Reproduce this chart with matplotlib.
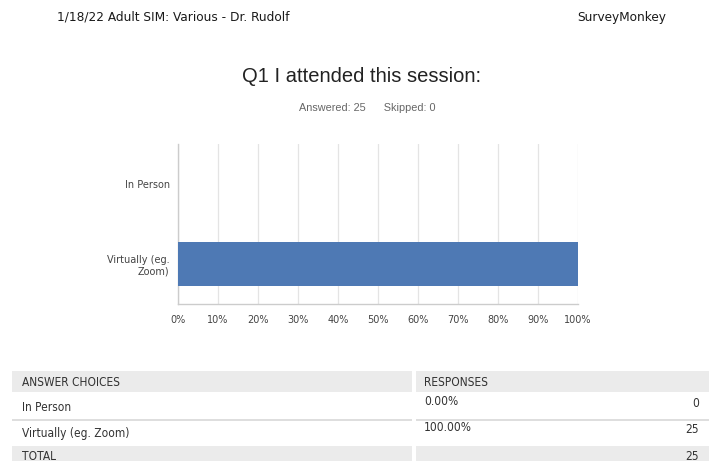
import matplotlib
matplotlib.use("Agg")
import matplotlib.pyplot as plt
from matplotlib.patches import Rectangle

choices = ["In Person", "Virtually (eg. Zoom)"]
tick_labels = ["In Person", "Virtually (eg.\nZoom)"]
pct = [0.0, 100.0]
counts = [0, 25]
total = 25
answered = 25
skipped = 0
xticks = [0, 10, 20, 30, 40, 50, 60, 70, 80, 90, 100]

W, H = 719, 461
fig = plt.figure(figsize=(W / 100, H / 100), dpi=100)
fig.patch.set_facecolor("white")

# overlay in pixel coords for the page furniture
pg = fig.add_axes([0, 0, 1, 1])
pg.set_xlim(0, W)
pg.set_ylim(H, 0)
pg.axis("off")

cond = dict(family="DejaVu Sans", fontstretch="condensed")
pg.text(57, 17, "1/18/22 Adult SIM: Various - Dr. Rudolf", fontsize=9.7,
        color="#1a1a1a", va="center", ha="left", **cond)
pg.text(666, 17, "SurveyMonkey", fontsize=9.7,
        color="#1a1a1a", va="center", ha="right", **cond)
pg.text(362, 76, "Q1 I attended this session:", fontsize=14.5,
        family="Liberation Sans", color="#222222", va="center", ha="center")
pg.text(367, 108, f"Answered: {answered}      Skipped: {skipped}", fontsize=7.8,
        family="Liberation Sans", color="#666666", va="center", ha="center")

# chart
ax = fig.add_axes([178 / W, (H - 304) / H, 400 / W, 160 / H])
ax.barh(range(len(choices)), pct, height=0.55, color="#4e79b4", zorder=3)
ax.set_xlim(0, 100)
ax.set_ylim(1.5, -0.5)
ax.set_xticks(xticks)
ax.set_xticklabels([f"{t}%" for t in xticks])
ax.set_yticks(range(len(choices)))
ax.set_yticklabels(tick_labels, ha="right", multialignment="right")
ax.tick_params(length=0, labelsize=7, colors="#444444", pad=6)
ax.tick_params(axis="x", pad=8)
ax.xaxis.grid(True, color="#e4e4e4", lw=0.9, zorder=0)
for s in ["top", "right"]:
    ax.spines[s].set_visible(False)
for s in ["left", "bottom"]:
    ax.spines[s].set_color("#cccccc")
    ax.spines[s].set_linewidth(1)

# table
gray = "#ebebeb"
line = "#dedede"
c1, c2 = (12, 412), (416, 709)
for x0, x1 in (c1, c2):
    pg.add_patch(Rectangle((x0, 371), x1 - x0, 21, color=gray, lw=0))
    pg.add_patch(Rectangle((x0, 446), x1 - x0, 20, color=gray, lw=0))
    pg.add_patch(Rectangle((x0, 418.5), x1 - x0, 2, color=line, lw=0))

tf = dict(fontsize=8.6, color="#333333", **cond)
pg.text(22, 382, "ANSWER CHOICES", va="center", ha="left", **tf)
pg.text(424, 382, "RESPONSES", va="center", ha="left", **tf)
row_y = [407, 433]
for i, name in enumerate(choices):
    pg.text(22, row_y[i], name, va="center", ha="left", **tf)
    pg.text(424, row_y[i] - 6, f"{pct[i]:.2f}%", va="center", ha="left", **tf)
    pg.text(699, row_y[i] - 4, str(counts[i]), va="center", ha="right", **tf)
pg.text(22, 456, "TOTAL", va="center", ha="left", **tf)
pg.text(699, 456, str(total), va="center", ha="right", **tf)

fig.savefig("out.png", dpi=100)
